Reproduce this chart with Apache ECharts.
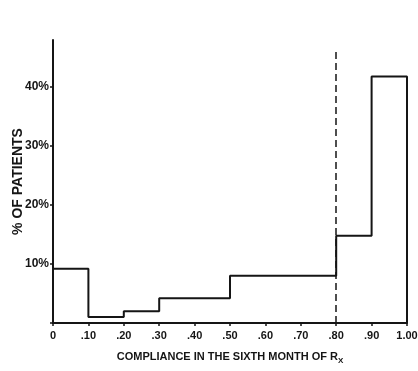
<!DOCTYPE html>
<html><head><meta charset="utf-8">
<script src="https://cdn.jsdelivr.net/npm/echarts@6/dist/echarts.min.js"></script>
<style>html,body{margin:0;padding:0;background:#fff;}#c{width:418px;height:371px;}</style>
</head><body><div id="c"></div>
<script>
var binStarts = [0, 0.1, 0.2, 0.3, 0.4, 0.5, 0.6, 0.7, 0.8, 0.9];
var binEnd = 1.0;
var percents = [9.2, 1.0, 2.0, 4.2, 4.2, 8.0, 8.0, 8.0, 14.8, 41.8];
var xTickLabels = ['0', '.10', '.20', '.30', '.40', '.50', '.60', '.70', '.80', '.90', '1.00'];
var yTickLabels = ['', '10%', '20%', '30%', '40%'];
var cutoff = 0.8;
var cutoffTop = 46;

var pts = binStarts.map(function (x, i) { return [x, percents[i]]; });
pts.push([binEnd, percents[percents.length - 1]]);
pts.push([binEnd, 0]);

var font = "'Liberation Sans Narrow', 'Liberation Sans', Arial, sans-serif";
var ink = '#151515';
var chart = echarts.init(document.getElementById('c'));
chart.setOption({
  animation: false,
  backgroundColor: '#fff',
  grid: { left: 53, right: 11, top: 40, bottom: 48, containLabel: false, outerBoundsMode: 'none' },
  xAxis: {
    type: 'value', min: 0, max: 1, interval: 0.1,
    name: '{a|COMPLIANCE IN THE SIXTH MONTH OF R}{b|X}',
    nameLocation: 'middle', nameGap: 26, nameMoveOverlap: false,
    nameTextStyle: { rich: {
      a: { fontFamily: font, fontWeight: 'bold', fontSize: 11, color: ink },
      b: { fontFamily: font, fontWeight: 'bold', fontSize: 8, color: ink, padding: [8, 0, 0, 0] }
    } },
    axisLine: { lineStyle: { color: ink, width: 2 } },
    axisTick: { show: true, length: 3, lineStyle: { color: ink, width: 1.5 } },
    splitLine: { show: false },
    axisLabel: {
      fontFamily: font, fontWeight: 'bold', fontSize: 11, color: ink, margin: 7,
      formatter: function (v) { return xTickLabels[Math.round(v * 10)]; }
    }
  },
  yAxis: {
    type: 'value', min: 0, max: 48, interval: 10,
    name: '% OF PATIENTS', nameLocation: 'middle', nameGap: 28, nameRotate: 90, nameMoveOverlap: false,
    nameTextStyle: { fontFamily: font, fontWeight: 'bold', fontSize: 14, color: ink },
    axisLine: { show: true, lineStyle: { color: ink, width: 2 } },
    axisTick: { show: true, length: 3, lineStyle: { color: ink, width: 1.5 } },
    splitLine: { show: false },
    axisLabel: {
      showMaxLabel: false,
      fontFamily: font, fontWeight: 'bold', fontSize: 12, color: ink, margin: 4,
      formatter: function (v) { return yTickLabels[Math.round(v / 10)] || ''; }
    }
  },
  series: [{
    type: 'line', step: 'end', data: pts, symbol: 'none',
    lineStyle: { color: ink, width: 2 },
    markLine: {
      silent: true, symbol: 'none', label: { show: false },
      lineStyle: { color: ink, width: 1.5, type: [7, 4] },
      data: [[{ coord: [cutoff, 0] }, { coord: [cutoff, cutoffTop] }]]
    }
  }]
});
</script></body></html>
